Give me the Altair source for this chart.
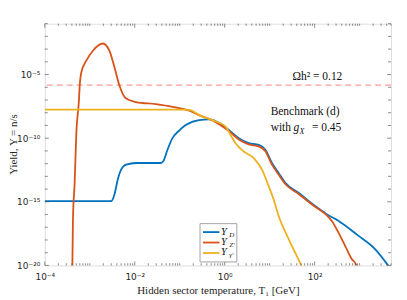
import altair as alt
import numpy as np
import pandas as pd

# ---- data (log10 values) ----
LOGT_D = [-4.00, -2.524, -2.451, -2.378, -2.303, -2.192, -1.971, -1.418, -1.367, -1.272, -1.162,
          -1.013, -0.865, -0.571, -0.350, -0.128, 0.093, 0.314, 0.535, 0.757, 0.905, 1.051,
          1.199, 1.347, 1.642, 2.011, 2.268, 2.527, 2.969, 3.338, 3.633]
LOGY_D = [-14.95, -14.95, -14.42, -13.25, -12.47, -12.08, -11.95, -11.95, -11.82, -10.91, -10.00,
          -9.40, -8.97, -8.58, -8.53, -8.79, -9.36, -10.00, -10.39, -10.53, -10.91, -11.95,
          -12.73, -13.51, -14.28, -15.33, -15.97, -16.49, -17.66, -18.70, -20.0]

LOGT_Z = [-3.40, -3.387, -3.374, -3.336, -3.299, -3.241, -3.226, -3.188, -3.077, -2.931, -2.710,
          -2.562, -2.451, -2.341, -2.192, -1.971, -1.529, -1.162, -0.719, -0.571, -0.283, 0.093,
          0.314, 0.535, 0.757, 0.905, 1.051, 1.199, 1.347, 1.642, 2.011, 2.268, 2.378, 2.527,
          2.675, 2.821, 2.931, 2.97]
LOGY_Z = [-21.0, -20.0, -16.36, -13.48, -9.59, -7.02, -5.99, -4.82, -3.91, -3.13, -2.56,
          -3.13, -4.43, -5.86, -6.89, -7.16, -7.33, -7.54, -7.93, -8.19, -8.58, -9.44,
          -10.10, -10.49, -10.64, -11.03, -12.08, -12.86, -13.60, -14.38, -15.39, -16.05, -16.49, -17.40,
          -18.44, -19.47, -20.0, -20.5]

LOGT_G = [-4.00, -1.013, -0.792, -0.719, -0.571, -0.277, 0.020, 0.131, 0.241, 0.425, 0.646,
          0.830, 0.978, 1.088, 1.199, 1.420, 1.701, 1.75]
LOGY_G = [-7.75, -7.75, -7.78, -7.86, -8.19, -8.58, -9.10, -9.75, -10.39, -11.05, -11.56,
          -12.47, -13.77, -14.81, -16.10, -17.92, -20.0, -20.4]

OMEGA_LINE = [10 ** -5.83]

X_MAJOR = [1e-4, 1e-2, 1e0, 1e2]
X_LABELS = ["10⁻⁴", "10⁻²", "10⁰", "10²"]
Y_MAJOR = [1e-20, 1e-15, 1e-10, 1e-5]
Y_LABELS = ["10⁻²⁰", "10⁻¹⁵", "10⁻¹⁰", "10⁻⁵"]

SERIES = ["Y_D", "Y_Z'", "Y_γ'"]
COLORS = ["#0072BD", "#D95319", "#EDB120"]

W, H = 348, 243
XMIN, XMAX = 1e-4, 5e3
YMIN, YMAX = 1e-20, 1e-1


def frame(lt, ly):
    return pd.DataFrame({"T": 10 ** np.array(lt), "Y": 10 ** np.array(ly)})


def label_expr(values, labels):
    parts = []
    for v, lab in zip(values[:-1], labels[:-1]):
        parts.append(f"datum.value < {v * 3:.3g} ? '{lab}'")
    return " : ".join(parts) + f" : '{labels[-1]}'"


AX = "#262626"
xs = alt.Scale(type="log", domain=[XMIN, XMAX], nice=False)
ys = alt.Scale(type="log", domain=[YMIN, YMAX], nice=False)

xaxis = alt.Axis(values=X_MAJOR, labelExpr=label_expr(X_MAJOR, X_LABELS), ticks=False, domain=False,
                 grid=False, labelPadding=7, labelFont="DejaVu Sans", labelFontSize=9,
                 labelColor=AX, labelFlush=False, labelOverlap=False,
                 title="Hidden sector temperature, T₁ [GeV]", titleFont="Liberation Serif",
                 titleFontSize=11, titleFontWeight="normal", titleColor=AX,
                 titleY=25.5, titleBaseline="middle")
yaxis = alt.Axis(values=Y_MAJOR, labelExpr=label_expr(Y_MAJOR, Y_LABELS), ticks=False, domain=False,
                 grid=False, labelPadding=5, labelFont="DejaVu Sans", labelFontSize=9,
                 labelColor=AX, labelFlush=False, labelOverlap=False,
                 title="Yield, Y = n/s", titleFont="Liberation Serif", titleFontSize=11,
                 titleFontWeight="normal", titleColor=AX, titleX=-31, titleY=H / 2 - 0.5,
                 titleAngle=270, titleBaseline="middle", titleAlign="center")

XE = alt.X("T:Q", scale=xs, axis=xaxis)
YE = alt.Y("Y:Q", scale=ys, axis=yaxis)

layers = []

# Omega h^2 line
layers.append(alt.Chart(pd.DataFrame({"Y": OMEGA_LINE})).mark_rule(
    color="#ff9c9c", strokeDash=[6, 4], strokeWidth=1.1).encode(y=YE))

# curves
for (lt, ly), col in zip([(LOGT_D, LOGY_D), (LOGT_Z, LOGY_Z), (LOGT_G, LOGY_G)], COLORS):
    layers.append(alt.Chart(frame(lt, ly)).mark_line(
        color=col, strokeWidth=1.8, interpolate="monotone", clip=True).encode(x=XE, y=YE))

# inward ticks (MATLAB style box ticks)
xminor = [k * 10.0 ** d for d in range(-4, 4) for k in range(1, 10)
          if XMIN <= k * 10.0 ** d <= XMAX and not (k == 1 and 10.0 ** d in X_MAJOR)]
ymin_t = [10.0 ** d for d in range(-20, 0) if 10.0 ** d not in Y_MAJOR]
xmaj_df = pd.DataFrame({"T": X_MAJOR})
xmin_df = pd.DataFrame({"T": xminor})
ymaj_df = pd.DataFrame({"Y": Y_MAJOR})
ymin_df = pd.DataFrame({"Y": ymin_t})
tk = dict(color="#5a5a5a", strokeWidth=0.7)
for df, ln in [(xmaj_df, 4), (xmin_df, 2.2)]:
    layers.append(alt.Chart(df).mark_rule(**tk).encode(x=XE, y=alt.value(H), y2=alt.value(H - ln)))
    layers.append(alt.Chart(df).mark_rule(**tk).encode(x=XE, y=alt.value(0), y2=alt.value(ln)))
for df, ln in [(ymaj_df, 4), (ymin_df, 3)]:
    layers.append(alt.Chart(df).mark_rule(**tk).encode(y=YE, x=alt.value(0), x2=alt.value(ln)))
    layers.append(alt.Chart(df).mark_rule(**tk).encode(y=YE, x=alt.value(W), x2=alt.value(W - ln)))

one = pd.DataFrame({"a": [0]})


def txt(s, x, y, size=11.5, align="left", italic=False):
    return alt.Chart(one).mark_text(text=s, font="Liberation Serif", fontSize=size, align=align,
                                    baseline="middle", color="#111111",
                                    fontStyle="italic" if italic else "normal").encode(
        x=alt.value(x), y=alt.value(y))


# annotations
layers.append(txt("Ωh² = 0.12", 274, 54, align="center"))
layers.append(txt("Benchmark (d)", 227, 88.7))
layers.append(txt("with", 227, 105.3))
layers.append(txt("g", 250, 105.3, italic=True))
layers.append(txt("X", 256, 108.5, size=8, italic=True))
layers.append(txt("= 0.45", 298, 105.3, align="right"))

# legend box
layers.append(alt.Chart(one).mark_rect(fill="white", stroke="#8c8c8c", strokeWidth=0.8).encode(
    x=alt.value(156), x2=alt.value(193), y=alt.value(201), y2=alt.value(239.5)))
rows = [209.5, 220, 230.5]
subs = ["D", "Z′", "γ′"]
for r, col, sub in zip(rows, COLORS, subs):
    layers.append(alt.Chart(one).mark_rule(color=col, strokeWidth=1.8).encode(
        x=alt.value(159), x2=alt.value(175.5), y=alt.value(r)))
    layers.append(txt("Y", 177, r - 0.5, size=10.5, italic=True))
    layers.append(txt(sub, 185.5, r + 2.5, size=7, italic=True))

chart = alt.layer(*layers).properties(
    width=W, height=H,
    autosize=alt.AutoSizeParams(type="none"),
    padding={"left": 37, "top": 15, "right": 8, "bottom": 32},
).configure_view(stroke="#8c8c8c", strokeWidth=0.8).configure(background="white")

chart.save("out.html", embed_options={"renderer": "svg", "actions": False})
